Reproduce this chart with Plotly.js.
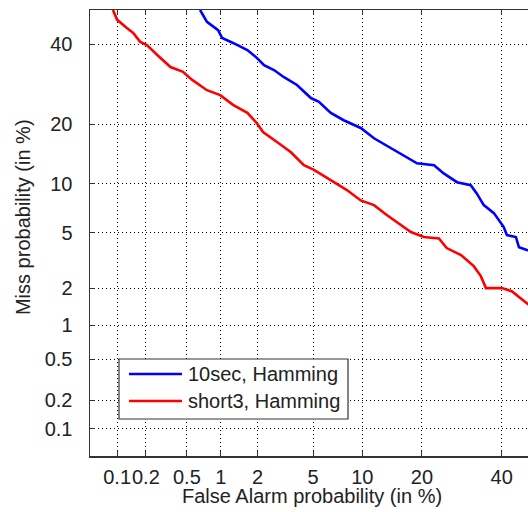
<!DOCTYPE html>
<html>
<head>
<meta charset="utf-8">
<script src="https://cdn.plot.ly/plotly-3.0.1.min.js"></script>
<style>
html,body{margin:0;padding:0;overflow:hidden;background:#fff;}
#chart{width:540px;height:512px;}
</style>
</head>
<body>
<div id="chart"></div>
<script>
// Values in percent
var seriesNames = ["10sec, Hamming", "short3, Hamming"];
var blueFA   = [0.66, 0.76, 0.95, 1.03, 1.27, 1.66, 1.97, 2.24, 2.66, 3.15, 3.89, 4.84, 5.46, 6.5, 7.8, 9.8, 11.6, 14.2, 16.5, 19.0, 22.6, 24.8, 28.0, 31.5, 33.1, 35.0, 37.8, 40.6, 41.5, 44.1, 45.0, 47.3, 50.0];
var blueMiss = [50.0, 46.5, 44.1, 41.8, 40.4, 38.4, 36.2, 34.2, 32.9, 31.0, 29.0, 25.8, 24.9, 22.4, 20.8, 19.2, 17.2, 15.4, 14.2, 12.9, 12.6, 11.4, 10.2, 9.8, 8.8, 7.5, 6.7, 5.46, 4.84, 4.7, 4.0, 3.83, 3.7];
var redFA    = [0.09, 0.10, 0.127, 0.148, 0.175, 0.205, 0.26, 0.35, 0.46, 0.56, 0.76, 0.99, 1.27, 1.66, 1.97, 2.2, 2.8, 3.53, 4.34, 5.07, 6.8, 8.15, 9.8, 11.6, 13.6, 15.2, 17.8, 20.4, 23.7, 25.5, 29.0, 32.3, 34.2, 35.6, 40.0, 42.9, 45.5, 47.6, 50.0];
var redMiss  = [50.0, 47.1, 44.7, 43.3, 40.7, 39.8, 37.0, 33.7, 32.4, 30.3, 27.7, 26.5, 24.2, 22.4, 20.2, 18.4, 16.5, 14.7, 12.6, 11.9, 10.2, 9.2, 8.0, 7.5, 6.5, 5.9, 5.07, 4.7, 4.6, 3.95, 3.53, 2.94, 2.48, 2.01, 2.01, 1.9, 1.68, 1.5, 1.45];
var seriesColors = ["#0000ff", "#ff0000"];
var tickPercents = [0.1, 0.2, 0.5, 1, 2, 5, 10, 20, 40];
var tickLabels = ["0.1", "0.2", "0.5", "1", "2", "5", "10", "20", "40"];
var rangePercents = [0.05, 50];

// Inverse standard normal CDF (Acklam)
function probit(p) {
  var a = [-3.969683028665376e+01, 2.209460984245205e+02, -2.759285104469687e+02, 1.383577518672690e+02, -3.066479806614716e+01, 2.506628277459239e+00];
  var b = [-5.447609879822406e+01, 1.615858368580409e+02, -1.556989798598866e+02, 6.680131188771972e+01, -1.328068155288572e+01];
  var c = [-7.784894002430293e-03, -3.223964580411365e-01, -2.400758277161838e+00, -2.549732539343734e+00, 4.374664141464968e+00, 2.938163982698783e+00];
  var d = [7.784695709041462e-03, 3.224671290700398e-01, 2.445134137142996e+00, 3.754408661907416e+00];
  var pl = 0.02425, q, r;
  if (p < pl) {
    q = Math.sqrt(-2 * Math.log(p));
    return (((((c[0]*q+c[1])*q+c[2])*q+c[3])*q+c[4])*q+c[5]) / ((((d[0]*q+d[1])*q+d[2])*q+d[3])*q+1);
  } else if (p <= 1 - pl) {
    q = p - 0.5; r = q * q;
    return (((((a[0]*r+a[1])*r+a[2])*r+a[3])*r+a[4])*r+a[5])*q / (((((b[0]*r+b[1])*r+b[2])*r+b[3])*r+b[4])*r+1);
  } else {
    q = Math.sqrt(-2 * Math.log(1 - p));
    return -(((((c[0]*q+c[1])*q+c[2])*q+c[3])*q+c[4])*q+c[5]) / ((((d[0]*q+d[1])*q+d[2])*q+d[3])*q+1);
  }
}
function toDev(arr) { return arr.map(function (v) { return probit(v / 100); }); }

var font = "Liberation Sans, Arial, Helvetica, sans-serif";
var textColor = "#222";

var traces = [
  {x: toDev(blueFA), y: toDev(blueMiss), mode: "lines", name: seriesNames[0],
   line: {color: seriesColors[0], width: 2.6}, showlegend: false},
  {x: toDev(redFA), y: toDev(redMiss), mode: "lines", name: seriesNames[1],
   line: {color: seriesColors[1], width: 2.6}, showlegend: false}
];

var axisCommon = {
  tickmode: "array",
  tickvals: toDev(tickPercents),
  ticktext: tickLabels,
  range: toDev(rangePercents),
  showgrid: true,
  gridcolor: "#000",
  gridwidth: 1,
  griddash: "1px,3px",
  zeroline: false,
  showline: true,
  linecolor: "#333",
  linewidth: 1.5,
  mirror: "ticks",
  ticks: "inside",
  ticklen: 5,
  tickwidth: 1,
  tickcolor: "#333",
  tickangle: 0,
  tickfont: {family: font, size: 20, color: textColor}
};

// manual legend (paper coordinates of the plot area)
var legBox = {x0: 0.065, x1: 0.5785, y0: 0.083, y1: 0.2175};
var legRows = [0.1839, 0.1233];
var shapes = [{type: "rect", xref: "paper", yref: "paper", layer: "above",
  x0: legBox.x0, x1: legBox.x1, y0: legBox.y0, y1: legBox.y1,
  fillcolor: "#fff", line: {color: "#333", width: 1.2}}];
var annotations = [
  {text: "False Alarm probability (in %)", xref: "paper", yref: "paper",
   x: 0.497, y: -0.09, xanchor: "center", yanchor: "middle", showarrow: false,
   font: {family: font, size: 20, color: textColor}},
  {text: "Miss probability (in %)", xref: "paper", yref: "paper",
   x: -0.150, y: 0.536, xanchor: "center", yanchor: "middle", showarrow: false,
   textangle: -90, font: {family: font, size: 20, color: textColor}}
];
seriesNames.forEach(function (n, i) {
  shapes.push({type: "line", xref: "paper", yref: "paper", layer: "above",
    x0: 0.0874, x1: 0.2063, y0: legRows[i], y1: legRows[i],
    line: {color: seriesColors[i], width: 2.6}});
  annotations.push({text: n, xref: "paper", yref: "paper", x: 0.2155, y: legRows[i],
    xanchor: "left", yanchor: "middle", showarrow: false,
    font: {family: font, size: 20, color: textColor}});
});

var layout = {
  width: 540, height: 512,
  margin: {l: 90, r: 4, t: 10, b: 56},
  paper_bgcolor: "#fff",
  plot_bgcolor: "#fff",
  showlegend: false,
  xaxis: Object.assign({}, axisCommon, {ticklabelstandoff: 2}),
  yaxis: Object.assign({}, axisCommon, {ticklabelstandoff: 12}),
  shapes: shapes,
  annotations: annotations
};

Plotly.newPlot("chart", traces, layout, {displayModeBar: false, staticPlot: true});
</script>
</body>
</html>
